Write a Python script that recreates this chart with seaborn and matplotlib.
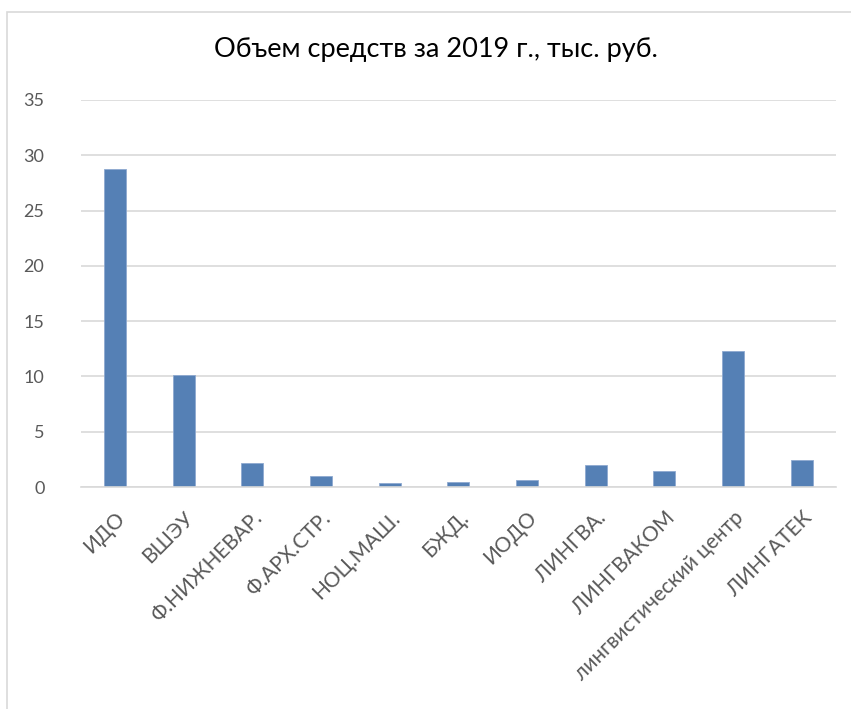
import matplotlib
matplotlib.use("Agg")
import matplotlib.pyplot as plt
import seaborn as sns
import pandas as pd
from matplotlib.patches import Rectangle

categories = ["ИДО", "ВШЭУ", "Ф.НИЖНЕВАР.", "Ф.АРХ.СТР.", "НОЦ.МАШ.", "БЖД.",
              "ИОДО", "ЛИНГВА.", "ЛИНГВАКОМ", "лингвистический центр", "ЛИНГАТЕК"]
values = [28.75, 10.1, 2.2, 0.97, 0.34, 0.42, 0.6, 2.0, 1.45, 12.3, 2.48]
yticks = [0, 5, 10, 15, 20, 25, 30, 35]

df = pd.DataFrame({"name": categories, "value": values})

sns.set_theme(style="white")
plt.rcParams['font.family'] = ['Lato', 'DejaVu Sans']

fig = plt.figure(figsize=(8.51, 7.09), dpi=100)
ax = fig.add_axes([80.5 / 851, 1 - 487 / 709, (836 - 80.5) / 851, (487 - 100) / 709])

sns.barplot(data=df, x="name", y="value", ax=ax, color="#5580B5",
            width=0.32, edgecolor="#8EA9D0", linewidth=0.6, saturation=1)

ax.set_ylim(0, 35)
ax.set_xlim(-0.5, len(categories) - 0.5)
ax.set_yticks(yticks)
ax.yaxis.grid(True, color="#D9D9D9", linewidth=1.2)
ax.set_axisbelow(True)
for s in ["top", "right", "left"]:
    ax.spines[s].set_visible(False)
ax.spines["bottom"].set_color("#D9D9D9")
ax.spines["bottom"].set_linewidth(1.2)
ax.set_xlabel("")
ax.set_ylabel("")
ax.tick_params(axis="y", length=0, colors="#595959", labelsize=13, pad=26)
ax.tick_params(axis="x", length=0, colors="#595959", labelsize=15, pad=15)
for lbl in ax.get_xticklabels():
    lbl.set_rotation(45)
    lbl.set_ha("right")
    lbl.set_rotation_mode("anchor")

fig.text(0.512, 1 - 50 / 709, "Объем средств за 2019 г., тыс. руб.", ha="center",
         va="center", fontsize=19.5, color="#000000")

# outer chart frame
fig.patches.append(Rectangle((7 / 851, -0.01), 1.0, 1 - 12 / 709 + 0.01,
                             transform=fig.transFigure, fill=False,
                             edgecolor="#D9D9D9", linewidth=1.2))

fig.savefig("out.png", dpi=100)
